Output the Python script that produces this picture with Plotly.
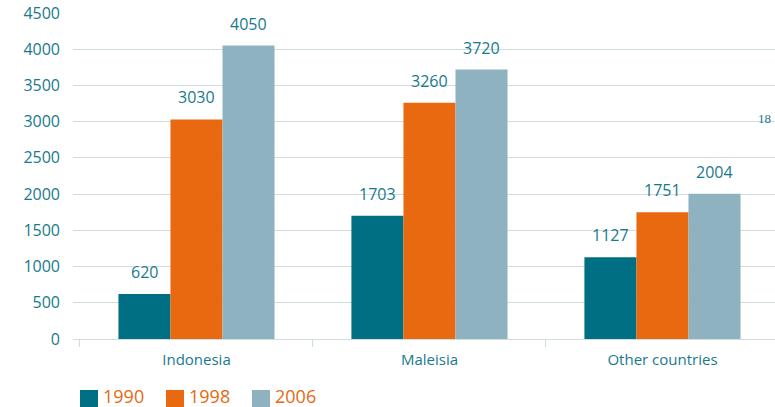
import plotly.graph_objects as go

countries = ["Indonesia", "Maleisia", "Other countries"]
years = ["1990", "1998", "2006"]
v1990 = [620, 1703, 1127]
v1998 = [3030, 3260, 1751]
v2006 = [4050, 3720, 2004]
y_ticks = [0, 500, 1000, 1500, 2000, 2500, 3000, 3500, 4000, 4500]

teal = "#177A8C"
orange = "#E8690F"
colors = ["#006F84", orange, "#8FB2C0"]
grid = "#CFDDE3"

# plot area in pixels (used to place the hand-made legend)
L, R, T, B = 73, 775, 13, 339
def px_x(p): return (p - L) / (R - L)
def px_y(p): return (B - p) / (B - T)

fig = go.Figure()
for i, (yr, vals, c) in enumerate(zip(years, [v1990, v1998, v2006], colors)):
    fig.add_trace(go.Bar(x=countries, y=vals, name=yr,
                         marker=dict(color=c, line=dict(width=0)), showlegend=False))
    # value labels above bars
    for cat, v in zip(countries, vals):
        fig.add_annotation(x=cat, y=v, text=str(v), showarrow=False, yanchor="bottom",
                           xshift=(i - 1) * 52, yshift=9,
                           font=dict(size=16, color=teal, family="Open Sans"))
    # legend swatch + label
    fig.add_shape(type="rect", xref="paper", yref="paper",
                  x0=px_x(80 + 86 * i), x1=px_x(98 + 86 * i), y0=px_y(390), y1=px_y(408),
                  fillcolor=c, line=dict(width=0))
    fig.add_annotation(xref="paper", yref="paper", x=px_x(101 + 86 * i), y=px_y(396),
                       text=yr, showarrow=False, xanchor="left", yanchor="middle",
                       font=dict(size=18, color=orange, family="Open Sans"))

fig.add_annotation(text="18", xref="paper", yref="paper", x=px_x(773), y=px_y(109),
                   xanchor="right", showarrow=False,
                   font=dict(family="Liberation Serif", size=13, color=teal))

fig.update_layout(
    width=775, height=407,
    margin=dict(l=L, r=775 - R, t=T, b=407 - B),
    plot_bgcolor="white", paper_bgcolor="white",
    barmode="group", bargap=0.33, bargroupgap=0,
    font=dict(family="Open Sans", color=teal),
    showlegend=False,
)
fig.update_xaxes(range=[-0.53, 2.483], showline=True, linecolor=grid, linewidth=1,
                 ticks="outside", tickson="boundaries", ticklen=7, tickcolor=grid,
                 ticklabelstandoff=7, tickfont=dict(size=15, color=teal), showgrid=False)
fig.update_yaxes(range=[0, 4500], tickvals=y_ticks, showgrid=True, gridcolor=grid,
                 gridwidth=1, zeroline=False, ticklabelstandoff=12,
                 tickfont=dict(size=16, color=teal))

fig.write_html("out.html", config={"displayModeBar": False},
               post_script="document.body.style.margin='0';")
